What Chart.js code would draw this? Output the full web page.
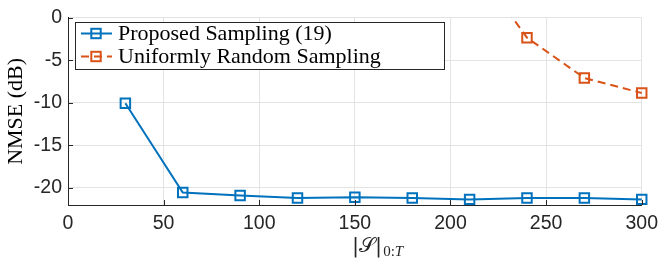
<!DOCTYPE html>
<html>
<head>
<meta charset="utf-8">
<script src="https://cdn.jsdelivr.net/npm/chart.js@4/dist/chart.umd.min.js"></script>
<style>
html,body{margin:0;padding:0;background:#fff;}
#wrap{width:665px;height:264px;position:relative;}
</style>
</head>
<body>
<div id="wrap"><canvas id="c" width="665" height="264"></canvas></div>
<script>
const sampleSizes = [30, 60, 90, 120, 150, 180, 210, 240, 270, 300];
const proposedNMSE = [-10.05, -20.54, -20.88, -21.19, -21.08, -21.19, -21.34, -21.19, -21.19, -21.34];
const uniformNMSE = [null, null, null, null, null, null, 7.0, -2.35, -7.08, -8.85];
const xTicks = [0, 50, 100, 150, 200, 250, 300];
const yTicks = [-20, -15, -10, -5, 0];
const seriesNames = ['Proposed Sampling (19)', 'Uniformly Random Sampling'];
const xTitleMain = '|\u{1D4AE}|';
const xTitleSubUpright = '0:';
const xTitleSubItalic = 'T';
const yTitle = 'NMSE (dB)';

const BLUE = '#0072BD', ORANGE = '#D95319', AX = '#262626', GRID = '#e3e3e3';
const tickFont = {family: '"Liberation Sans", Arial, sans-serif', size: 19.5};

const toPts = (ys) => sampleSizes.map((x, i) => ({x: x, y: ys[i]}));

const extras = {
  id: 'extras',
  afterDraw(chart) {
    const ctx = chart.ctx, a = chart.chartArea;
    const xs = chart.scales.x, ys = chart.scales.y;
    ctx.save();
    // inward ticks
    ctx.strokeStyle = AX; ctx.lineWidth = 1;
    ctx.beginPath();
    xTicks.forEach(v => { const px = Math.round(xs.getPixelForValue(v)) + 0.5; ctx.moveTo(px, a.bottom); ctx.lineTo(px, a.bottom - 5); });
    yTicks.forEach(v => { const py = Math.round(ys.getPixelForValue(v)) + 0.5; ctx.moveTo(a.left, py); ctx.lineTo(a.left + 5, py); });
    ctx.stroke();
    // x title
    ctx.fillStyle = AX;
    ctx.textBaseline = 'alphabetic';
    ctx.font = '21px "DejaVu Serif", "Liberation Serif", serif';
    const x0 = 352, yb = 252;
    ctx.fillText(xTitleMain, x0, yb);
    let w = ctx.measureText(xTitleMain).width;
    ctx.font = '15px "Liberation Serif", serif';
    ctx.fillText(xTitleSubUpright, x0 + w + 1, yb + 4);
    w += ctx.measureText(xTitleSubUpright).width;
    ctx.font = 'italic 15px "Liberation Serif", serif';
    ctx.fillText(xTitleSubItalic, x0 + w + 1, yb + 4);
    // legend
    const L = 75.5, T = 22.5, R = 444.5, B = 69.5;
    ctx.fillStyle = '#fff';
    ctx.fillRect(L, T, R - L, B - T);
    ctx.strokeStyle = AX; ctx.lineWidth = 1;
    ctx.strokeRect(L, T, R - L, B - T);
    const rows = [33.5, 56.5];
    chart.data.datasets.forEach((ds, i) => {
      const yy = rows[i];
      ctx.strokeStyle = ds.borderColor; ctx.lineWidth = 2;
      ctx.setLineDash(ds.borderDash || []);
      ctx.beginPath(); ctx.moveTo(81, yy); ctx.lineTo(112, yy); ctx.stroke();
      ctx.setLineDash([]);
      ctx.strokeRect(96 - 4.7, yy - 4.7, 9.4, 9.4);
      ctx.fillStyle = '#000';
      ctx.font = '22px "Liberation Serif", "Times New Roman", serif';
      ctx.textBaseline = 'middle';
      ctx.fillText(ds.label, 118, yy + 1);
    });
    ctx.restore();
  }
};

new Chart(document.getElementById('c'), {
  type: 'line',
  data: {
    datasets: [
      {label: seriesNames[0], data: toPts(proposedNMSE), borderColor: BLUE, backgroundColor: 'rgba(0,0,0,0)',
       borderWidth: 2, pointStyle: 'rect', pointRadius: 6.7, pointBorderWidth: 2, pointBorderColor: BLUE,
       pointBackgroundColor: 'rgba(0,0,0,0)', tension: 0, clip: {left: 10, right: 10, top: 0, bottom: 10}},
      {label: seriesNames[1], data: toPts(uniformNMSE), borderColor: ORANGE, backgroundColor: 'rgba(0,0,0,0)',
       borderWidth: 2, borderDash: [8, 5], pointStyle: 'rect', pointRadius: 6.7, pointBorderWidth: 2, pointBorderColor: ORANGE,
       pointBackgroundColor: 'rgba(0,0,0,0)', tension: 0, spanGaps: false, clip: {left: 10, right: 10, top: 0, bottom: 10}}
    ]
  },
  options: {
    responsive: false, animation: false, devicePixelRatio: 1,
    layout: {padding: {top: 13, right: 18, left: 0, bottom: 0}},
    plugins: {legend: {display: false}, tooltip: {enabled: false}},
    scales: {
      x: {
        type: 'linear', min: 0, max: 300,
        afterBuildTicks: s => { s.ticks = xTicks.map(v => ({value: v})); },
        afterFit: s => { s.height = 59; },
        grid: {color: GRID, lineWidth: 1, drawTicks: false},
        border: {color: AX, width: 1},
        ticks: {font: tickFont, color: AX, padding: 7, maxRotation: 0}
      },
      y: {
        type: 'linear', min: -22, max: 0,
        afterBuildTicks: s => { s.ticks = yTicks.map(v => ({value: v})); },
        afterFit: s => { s.width = 68; },
        grid: {color: GRID, lineWidth: 1, drawTicks: false},
        border: {color: AX, width: 1},
        ticks: {font: tickFont, color: AX, padding: 6},
        title: {display: true, text: yTitle, color: '#000',
                font: {family: '"Liberation Serif", "Times New Roman", serif', size: 22, lineHeight: 1.2},
                padding: {top: 3, bottom: 0}}
      }
    }
  },
  plugins: [extras]
});
</script>
</body>
</html>
